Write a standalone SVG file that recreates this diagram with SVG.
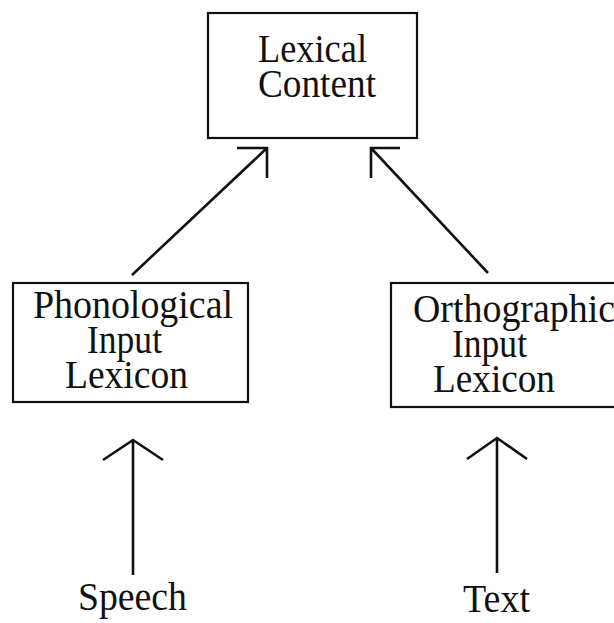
<svg xmlns="http://www.w3.org/2000/svg" width="614" height="623" viewBox="0 0 614 623">
<style>
.box{fill:#fff;stroke:#111;stroke-width:2.2}
.t{font-family:"Liberation Serif","Times New Roman",serif;font-size:41px;fill:#111}
.c{fill:none;stroke:#111;stroke-width:2.6;stroke-linecap:butt;stroke-linejoin:miter}
</style>
<rect width="614" height="623" fill="#fff"/>
<g id="lexical-content">
<rect class="box" x="208" y="13" width="209" height="125"/>
<text class="t" x="258" y="62" textLength="109" lengthAdjust="spacingAndGlyphs">Lexical</text>
<text class="t" x="258" y="97" textLength="118" lengthAdjust="spacingAndGlyphs">Content</text>
</g>
<g id="phonological-input-lexicon">
<rect class="box" x="13" y="283" width="235" height="119"/>
<text class="t" x="33" y="318" textLength="200" lengthAdjust="spacingAndGlyphs">Phonological</text>
<text class="t" x="87" y="353" textLength="75" lengthAdjust="spacingAndGlyphs">Input</text>
<text class="t" x="65" y="388" textLength="123" lengthAdjust="spacingAndGlyphs">Lexicon</text>
</g>
<g id="orthographic-input-lexicon">
<rect class="box" x="391" y="283" width="230" height="124"/>
<text class="t" x="413" y="322" textLength="202" lengthAdjust="spacingAndGlyphs">Orthographic</text>
<text class="t" x="452" y="357" textLength="75" lengthAdjust="spacingAndGlyphs">Input</text>
<text class="t" x="433" y="392" textLength="122" lengthAdjust="spacingAndGlyphs">Lexicon</text>
</g>
<g id="speech">
<text class="t" x="78" y="610" textLength="109" lengthAdjust="spacingAndGlyphs">Speech</text>
</g>
<g id="text">
<text class="t" x="463" y="612" textLength="67" lengthAdjust="spacingAndGlyphs">Text</text>
</g>
<g id="connectors">
<path class="c" d="M132,275 L267,148 M237,148 L267,148 L267,178"/>
<path class="c" d="M488,273 L371,148 M400,148 L371,148 L371,178"/>
<path class="c" d="M133,575 L133,440 M103,460 L133,440 L163,460"/>
<path class="c" d="M497,573 L497,438 M467,459 L497,438 L527,459"/>
</g>
</svg>
